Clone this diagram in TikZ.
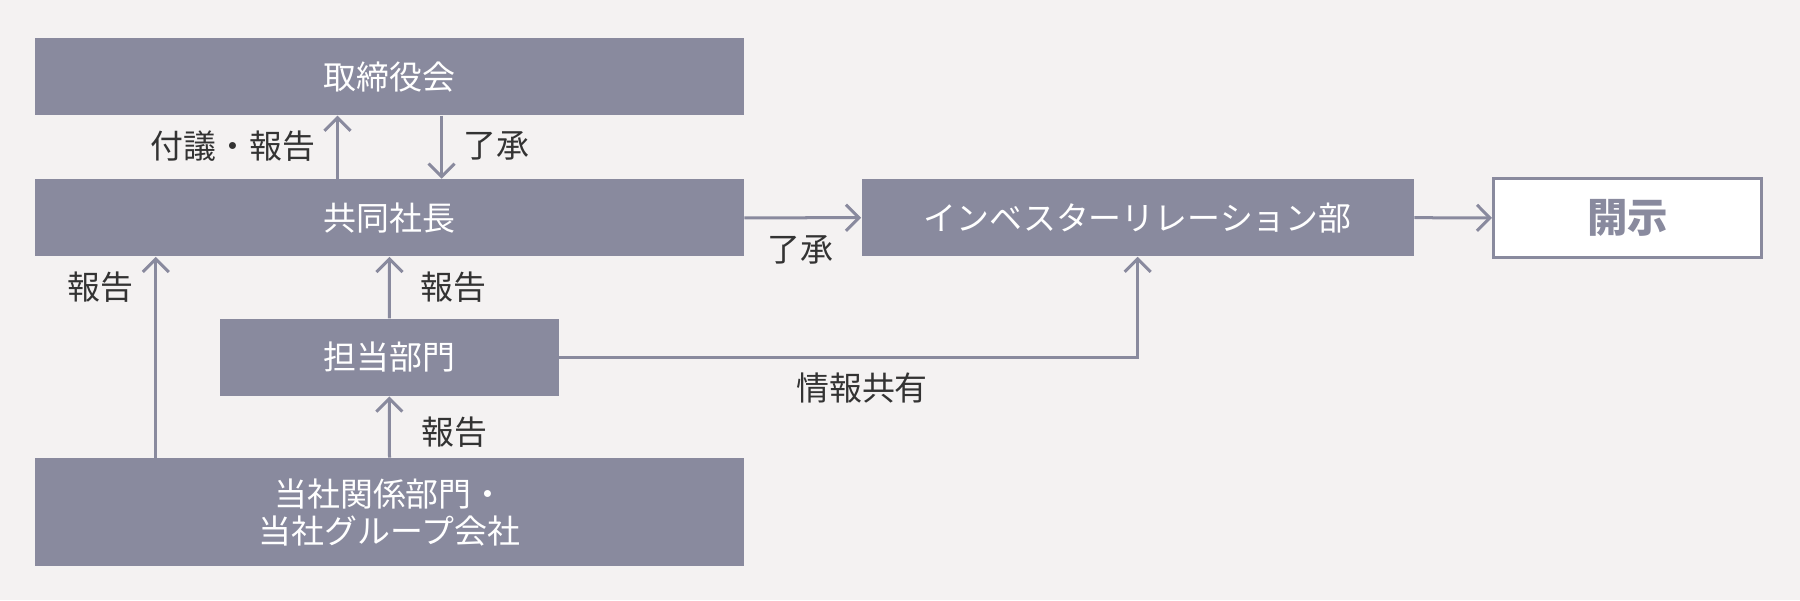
\documentclass[tikz,border=0pt]{standalone}
\usepackage{fontspec}
\setmainfont{Noto Sans CJK JP}
\usetikzlibrary{arrows.meta}
\definecolor{bgc}{RGB}{244,242,242}
\definecolor{boxc}{RGB}{137,138,158}
\definecolor{txtc}{RGB}{51,51,51}
\begin{document}
\begin{tikzpicture}[x=0.01cm,y=-0.01cm,
  box/.style={fill=boxc,draw=none,text=white,inner sep=0pt,minimum height=0.767cm,
    font=\fontsize{9.36pt}{10.45pt}\selectfont, align=center},
  lbl/.style={text=txtc,inner sep=0pt,font=\fontsize{9.36pt}{11pt}\selectfont},
  arr/.style={draw=boxc,line width=0.03cm,-{Straight Barb[length=0.13cm,width=0.26cm]}}]
\fill[bgc] (0,0) rectangle (1800,600);
\useasboundingbox (0,0) rectangle (1800,600);
% boxes
\node[box,minimum width=7.078cm] (board) at (389.5,76.6) {取締役会};
\node[box,minimum width=7.078cm] (pres) at (389.5,217.8) {共同社長};
\node[box,minimum width=3.387cm] (dept) at (389.3,357.4) {担当部門};
\node[box,minimum width=7.078cm,minimum height=1.077cm] (rel) at (389.5,512.2) {当社関係部門・\\当社グループ会社};
\node[box,minimum width=5.516cm] (ir) at (1137.7,217.7) {インベスターリレーション部};
\node[draw=boxc,line width=0.027cm,fill=white,inner sep=0pt,minimum width=2.68cm,minimum height=0.788cm,
  text=boxc,font=\fontsize{11.5pt}{13pt}\selectfont\bfseries] (disc) at (1627.5,217.9) {開示};
% connectors
\draw[arr] ([xshift=-0.52cm]pres.north) -- ([xshift=-0.52cm]board.south);
\draw[arr] ([xshift=0.52cm]board.south) -- ([xshift=0.52cm]pres.north);
\draw[arr] (pres.east) -- (ir.west);
\draw[arr] ([xshift=-2.335cm]rel.north) -- ([xshift=-2.335cm]pres.south);
\draw[arr] (dept.north) -- (pres.south);
\draw[arr] (rel.north) -- (dept.south);
\draw[arr] (dept.east) -| (ir.south);
\draw[arr] (ir.east) -- (disc.west);
% labels
\node[lbl,anchor=east] (l1) at (316,146) {付議・報告};
\node[lbl,anchor=west] (l2) at (463,146) {了承};
\node[lbl] (l3) at (800,250) {了承};
\node[lbl,anchor=east] (l4) at (134,287) {報告};
\node[lbl,anchor=west] (l5) at (420,287) {報告};
\node[lbl,anchor=west] (l6) at (421,431.7) {報告};
\node[lbl] (l7) at (862,388) {情報共有};
\end{tikzpicture}
\end{document}
